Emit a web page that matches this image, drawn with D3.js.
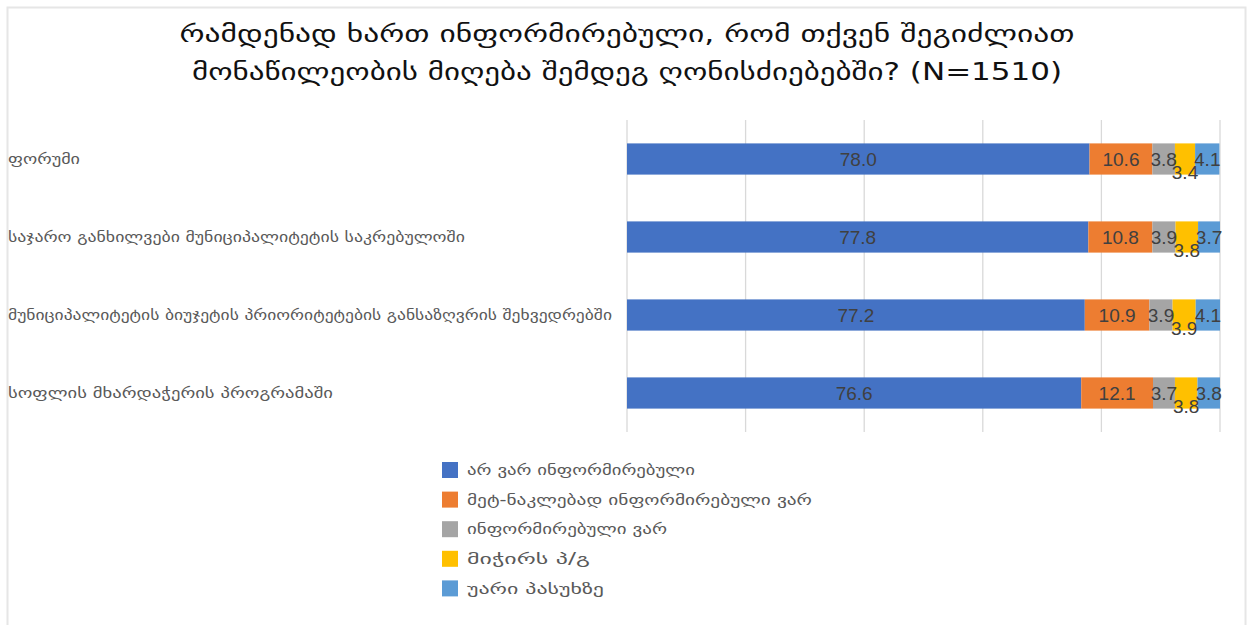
<!DOCTYPE html>
<html>
<head>
<meta charset="utf-8">
<script src="https://cdn.jsdelivr.net/npm/d3@7"></script>
<style>
  html, body { margin: 0; padding: 0; background: #fff; }
  svg { display: block; }
</style>
</head>
<body>
<svg id="chart" width="1247" height="625"></svg>
<script>
// ---- data ----
const titleLines = [
  "რამდენად ხართ ინფორმირებული, რომ თქვენ შეგიძლიათ",
  "მონაწილეობის მიღება შემდეგ ღონისძიებებში? (N=1510)"
];
const categories = [
  "ფორუმი",
  "საჯარო განხილვები მუნიციპალიტეტის საკრებულოში",
  "მუნიციპალიტეტის ბიუჯეტის პრიორიტეტების განსაზღვრის შეხვედრებში",
  "სოფლის მხარდაჭერის პროგრამაში"
];
const seriesNames = [
  "არ ვარ ინფორმირებული",
  "მეტ-ნაკლებად ინფორმირებული ვარ",
  "ინფორმირებული ვარ",
  "მიჭირს პ/გ",
  "უარი პასუხზე"
];
const seriesColors = ["#4472C4", "#ED7D31", "#A5A5A5", "#FFC000", "#5B9BD5"];
const notInformed   = [78.0, 77.8, 77.2, 76.6];
const somewhat      = [10.6, 10.8, 10.9, 12.1];
const informed      = [3.8, 3.9, 3.9, 3.7];
const hardToSay     = [3.4, 3.8, 3.9, 3.8];
const refused       = [4.1, 3.7, 4.1, 3.8];
const xTicks = [0, 20, 40, 60, 80, 100];
// label right-edge widths for the (clipped) category labels
const catLabelWidths = [72, 457, 604, 325];

const seriesValues = [notInformed, somewhat, informed, hardToSay, refused];

const svg = d3.select("#chart");

// frame
svg.append("rect").attr("x", 7.5).attr("y", 7.5).attr("width", 1238).attr("height", 640)
  .attr("fill", "#fff").attr("stroke", "#e6e6e6").attr("stroke-width", 2);

// title
const titleWidths = [895, 870];
svg.append("g").selectAll("text").data(titleLines).join("text")
  .attr("x", 627).attr("y", (d, i) => 42 + i * 38)
  .attr("text-anchor", "middle")
  .attr("font-family", "'DejaVu Sans Condensed', 'DejaVu Sans', sans-serif")
  .attr("font-size", 24)
  .attr("fill", "#111")
  .attr("textLength", (d, i) => titleWidths[i])
  .attr("lengthAdjust", "spacingAndGlyphs")
  .text(d => d);

// scales
const x = d3.scaleLinear().domain([0, 100]).range([627, 1220]);
const y = d3.scaleBand().domain(categories).range([120, 432]).paddingInner(0.6).paddingOuter(0.3);

// gridlines
svg.append("g").selectAll("line").data(xTicks).join("line")
  .attr("x1", d => x(d)).attr("x2", d => x(d))
  .attr("y1", 120).attr("y2", 432)
  .attr("stroke", "#d9d9d9").attr("stroke-width", 1.3);

// stacked data
const rows = categories.map((c, i) => {
  const o = { cat: c };
  seriesNames.forEach((s, k) => o[s] = seriesValues[k][i]);
  return o;
});
const stack = d3.stack().keys(seriesNames)(rows);

const layers = svg.append("g").selectAll("g").data(stack).join("g")
  .attr("fill", (d, i) => seriesColors[i]);
layers.selectAll("rect").data(d => d).join("rect")
  .attr("x", d => x(d[0]))
  .attr("y", d => y(d.data.cat))
  .attr("width", d => x(d[1]) - x(d[0]))
  .attr("height", y.bandwidth());

// value labels
const labG = svg.append("g")
  .attr("font-family", "'Liberation Sans Narrow', 'Liberation Sans', sans-serif")
  .attr("font-size", 19).attr("fill", "#404040").attr("text-anchor", "middle");
stack.forEach((layer, k) => {
  labG.selectAll(null).data(layer).join("text")
    .attr("x", d => (x(d[0]) + x(d[1])) / 2)
    .attr("y", d => y(d.data.cat) + y.bandwidth() / 2 + (k === 3 ? 13 : 0))
    .attr("dy", "0.35em")
    .text(d => (d[1] - d[0]).toFixed(1));
});

// category labels (left aligned, clipped at frame)
svg.append("defs").append("clipPath").attr("id", "clipL")
  .append("rect").attr("x", 8).attr("y", 0).attr("width", 610).attr("height", 625);
svg.append("g").attr("clip-path", "url(#clipL)").selectAll("text").data(categories).join("text")
  .attr("x", 8)
  .attr("y", d => y(d) + y.bandwidth() / 2)
  .attr("dy", "0.35em")
  .attr("font-family", "'DejaVu Sans', sans-serif")
  .attr("font-size", 15)
  .attr("fill", "#595959")
  .attr("textLength", (d, i) => catLabelWidths[i])
  .attr("lengthAdjust", "spacingAndGlyphs")
  .text(d => d);

// legend
const legendWidths = [228, 345, 200, 123, 137];
const lg = svg.append("g").selectAll("g").data(seriesNames).join("g")
  .attr("transform", (d, i) => `translate(442, ${462 + i * 29.6})`);
lg.append("rect").attr("width", 16).attr("height", 16).attr("fill", (d, i) => seriesColors[i]);
lg.append("text").attr("x", 25).attr("y", 8).attr("dy", "0.35em")
  .attr("font-family", "'DejaVu Sans', sans-serif")
  .attr("font-size", 15).attr("fill", "#595959")
  .attr("textLength", (d, i) => legendWidths[i])
  .attr("lengthAdjust", "spacingAndGlyphs")
  .text(d => d);
</script>
</body>
</html>
